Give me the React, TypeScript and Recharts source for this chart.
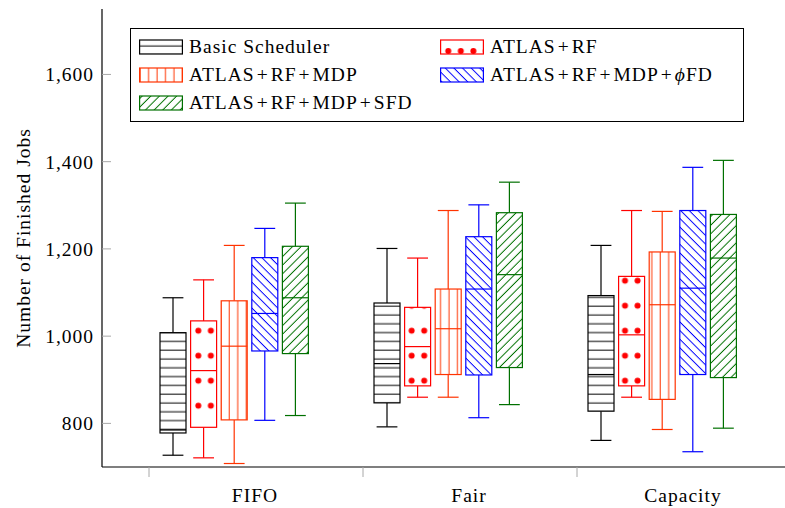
import { BarChart, Bar, XAxis, YAxis, Legend, Label } from 'recharts';

const categories = ['FIFO', 'Fair', 'Capacity'];

// [min, q1, median, q3, max] per scheduler, one row per category
const basicScheduler = [
  [727, 778, 785, 1008, 1088],
  [792, 847, 937, 1076, 1201],
  [761, 828, 912, 1093, 1208],
];
const atlasRf = [
  [721, 791, 921, 1035, 1129],
  [860, 886, 976, 1066, 1179],
  [860, 886, 1003, 1137, 1288],
];
const atlasRfMdp = [
  [708, 808, 977, 1081, 1208],
  [860, 912, 1017, 1108, 1288],
  [786, 855, 1072, 1193, 1286],
];
const atlasRfMdpPhiFd = [
  [807, 966, 1052, 1180, 1247],
  [813, 911, 1108, 1228, 1301],
  [735, 912, 1110, 1288, 1387],
];
const atlasRfMdpSfd = [
  [818, 960, 1088, 1206, 1305],
  [843, 928, 1141, 1283, 1353],
  [789, 905, 1179, 1279, 1403],
];

const yTicks = [800, 1000, 1200, 1400, 1600];

const FONT = '"Liberation Serif", "DejaVu Serif", serif';
const FONT_SIZE = 19.5;
const TICK_GREY = '#a8a8a8';

const series = [
  { key: 'basic', name: 'Basic Scheduler', color: '#000000', fill: 'pat-hlines', legendFill: 'pat-hlines', stats: basicScheduler },
  { key: 'rf', name: 'ATLAS+RF', color: '#ff0000', fill: 'pat-dots', legendFill: 'pat-dots-legend', stats: atlasRf },
  { key: 'mdp', name: 'ATLAS+RF+MDP', color: '#ff3300', fill: 'pat-vlines', legendFill: 'pat-vlines', stats: atlasRfMdp },
  { key: 'phifd', name: 'ATLAS+RF+MDP+ϕFD', color: '#0000ff', fill: 'pat-nwlines', legendFill: 'pat-nwlines', stats: atlasRfMdpPhiFd },
  { key: 'sfd', name: 'ATLAS+RF+MDP+SFD', color: '#007000', fill: 'pat-nelines', legendFill: 'pat-nelines', stats: atlasRfMdpSfd },
];

// legend order: two columns, filled row by row
const legendOrder = ['basic', 'rf', 'mdp', 'phifd', 'sfd'];

const data = categories.map((name, i) => {
  const row: any = { name };
  series.forEach((s) => {
    const st = s.stats[i];
    row[s.key] = [st[0], st[4]];
    row[s.key + 'Stats'] = st;
  });
  return row;
});

// box + whiskers, positioned from the ranged bar the library lays out (min..max)
const makeBox = (statsKey: string, color: string, fill: string) => (props: any) => {
  const { x, y, width, height, payload } = props;
  const [min, q1, med, q3, max] = payload[statsKey];
  const top = Math.min(y, y + height);
  const span = Math.abs(height);
  const toY = (v: number) => top + ((max - v) / (max - min)) * span;
  const cx = x + width / 2;
  const cap = width * 0.4;
  const sw = 1.2;
  return (
    <g>
      <line x1={cx} x2={cx} y1={toY(max)} y2={toY(q3)} stroke={color} strokeWidth={sw} />
      <line x1={cx} x2={cx} y1={toY(q1)} y2={toY(min)} stroke={color} strokeWidth={sw} />
      <line x1={cx - cap} x2={cx + cap} y1={toY(max)} y2={toY(max)} stroke={color} strokeWidth={sw} />
      <line x1={cx - cap} x2={cx + cap} y1={toY(min)} y2={toY(min)} stroke={color} strokeWidth={sw} />
      <rect x={x} y={toY(q3)} width={width} height={toY(q1) - toY(q3)} fill="#ffffff" />
      <rect
        x={x}
        y={toY(q3)}
        width={width}
        height={toY(q1) - toY(q3)}
        fill={`url(#${fill})`}
        stroke={color}
        strokeWidth={sw}
      />
      <line x1={x} x2={x + width} y1={toY(med)} y2={toY(med)} stroke={color} strokeWidth={sw} />
    </g>
  );
};

const PatternDefs = () => (
  <svg width={0} height={0} style={{ position: 'absolute' }}>
    <defs>
      <pattern id="pat-hlines" patternUnits="userSpaceOnUse" width={10} height={8.8}>
        <line x1={0} x2={10} y1={7} y2={7} stroke="#000000" strokeWidth={1} />
      </pattern>
      <pattern id="pat-dots" patternUnits="userSpaceOnUse" x={3.8} y={-6.8} width={12.55} height={25}>
        <circle cx={6.275} cy={12.5} r={3} fill="#ff0000" />
      </pattern>
      <pattern id="pat-dots-legend" patternUnits="userSpaceOnUse" x={2} y={0} width={12.55} height={25}>
        <circle cx={6.275} cy={12} r={3} fill="#ff0000" />
      </pattern>
      <pattern id="pat-vlines" patternUnits="userSpaceOnUse" width={8.45} height={10}>
        <line x1={1.15} x2={1.15} y1={0} y2={10} stroke="#ff3300" strokeWidth={1} />
      </pattern>
      <pattern id="pat-nwlines" patternUnits="userSpaceOnUse" width={6.1} height={6.1} patternTransform="rotate(-45)">
        <line x1={3} x2={3} y1={0} y2={6.1} stroke="#0000ff" strokeWidth={1} />
      </pattern>
      <pattern id="pat-nelines" patternUnits="userSpaceOnUse" width={6.1} height={6.1} patternTransform="rotate(45)">
        <line x1={3} x2={3} y1={0} y2={6.1} stroke="#007000" strokeWidth={1} />
      </pattern>
    </defs>
  </svg>
);

// '+' signs get a little room, the way math-mode operators are spaced
const LegendText = ({ text }: { text: string }) => {
  const parts = text.split('+');
  return (
    <span>
      {parts.map((p, i) => (
        <span key={i}>
          {i > 0 && <span style={{ margin: '0 2px' }}>+</span>}
          {p.includes('ϕ') ? (
            <>
              <i>ϕ</i>
              {p.replace('ϕ', '')}
            </>
          ) : (
            p
          )}
        </span>
      ))}
    </span>
  );
};

const renderLegend = () => (
  <div
    style={{
      boxSizing: 'border-box',
      width: 614,
      height: 94,
      border: '1px solid #000',
      background: '#fff',
      padding: '4px 0 0 8px',
      display: 'grid',
      gridTemplateColumns: '301px auto',
      gridAutoRows: '28px',
      fontFamily: FONT,
      fontSize: FONT_SIZE,
      letterSpacing: 1,
      color: '#000',
    }}
  >
    {legendOrder.map((k) => {
      const s = series.find((e) => e.key === k)!;
      return (
        <div key={k} style={{ display: 'flex', alignItems: 'center', whiteSpace: 'nowrap', lineHeight: '28px' }}>
          <svg width={44} height={16} style={{ display: 'block', marginRight: 6 }}>
            <rect x={0.6} y={1} width={42.8} height={14} fill="#fff" />
            <rect x={0.6} y={1} width={42.8} height={14} fill={`url(#${s.legendFill})`} stroke={s.color} strokeWidth={1.2} />
          </svg>
          <LegendText text={s.name} />
        </div>
      );
    })}
  </div>
);

const textStyle = { fontFamily: FONT, fontSize: FONT_SIZE, letterSpacing: 1, fill: '#000' };

const LeftTick = ({ x, y, payload }: any) => (
  <g>
    <line x1={x} x2={x + 9} y1={y} y2={y} stroke={TICK_GREY} strokeWidth={1} />
    <text x={x - 8} y={y} dy="0.36em" textAnchor="end" style={textStyle}>
      {Number(payload.value).toLocaleString('en-US')}
    </text>
  </g>
);

const RightTick = ({ x, y }: any) => (
  <line x1={x - 9} x2={x} y1={y} y2={y} stroke={TICK_GREY} strokeWidth={1} />
);

const BottomTick = ({ x, y, payload }: any) => (
  <g>
    <line x1={x - 85} x2={x - 85} y1={y} y2={y + 10} stroke={TICK_GREY} strokeWidth={1} />
    <text x={x + 21} y={y + 28} dy="0.36em" textAnchor="middle" style={textStyle}>
      {payload.value}
    </text>
  </g>
);

const TopTick = ({ x, y }: any) => (
  <line x1={x - 85} x2={x - 85} y1={y - 9} y2={y} stroke={TICK_GREY} strokeWidth={1} />
);

const YTitle = (props: any) => {
  const vb = props.viewBox ?? { x: 0, y: 9, width: 102, height: 458 };
  const cx = vb.x + 23;
  const cy = vb.y + vb.height / 2;
  return (
    <text
      x={cx}
      y={cy}
      transform={`rotate(-90 ${cx} ${cy})`}
      textAnchor="middle"
      dominantBaseline="central"
      style={textStyle}
    >
      Number of Finished Jobs
    </text>
  );
};

export default function App() {
  return (
    <div style={{ position: 'absolute', left: 0, top: 0, width: 785, height: 508, overflow: 'hidden', background: '#fff' }}>
      <PatternDefs />
      <BarChart
        width={785}
        height={508}
        data={data}
        margin={{ top: 9, right: 0, bottom: 0, left: 0 }}
        barSize={26}
        barGap={4.6}
      >
        <XAxis
          xAxisId="bottom"
          dataKey="name"
          height={41}
          padding={{ left: 25, right: 16 }}
          axisLine={{ stroke: '#000', strokeWidth: 1.2 }}
          tickLine={false}
          tickSize={0}
          tickMargin={0}
          tick={<BottomTick />}
          interval={0}
        />
        <XAxis
          xAxisId="top"
          orientation="top"
          dataKey="name"
          height={0}
          padding={{ left: 25, right: 16 }}
          axisLine={{ stroke: '#000', strokeWidth: 1.2 }}
          tickLine={false}
          tickSize={0}
          tickMargin={0}
          tick={<TopTick />}
          interval={0}
        />
        <YAxis
          yAxisId="left"
          width={102}
          domain={[700, 1750]}
          ticks={yTicks}
          type="number"
          axisLine={{ stroke: '#000', strokeWidth: 1.2 }}
          tickLine={false}
          tickSize={0}
          tickMargin={0}
          tick={<LeftTick />}
          interval={0}
        >
          <Label content={<YTitle />} />
        </YAxis>
        <YAxis
          yAxisId="right"
          orientation="right"
          width={0}
          domain={[700, 1750]}
          ticks={yTicks}
          type="number"
          axisLine={false}
          tickLine={false}
          tickSize={0}
          tickMargin={0}
          tick={<RightTick />}
          interval={0}
        />
        <Legend
          layout="vertical"
          align="center"
          verticalAlign="middle"
          content={renderLegend}
          wrapperStyle={{ left: 130, top: 28, width: 614, height: 94 }}
        />
        {series.map((s) => (
          <Bar
            key={s.key}
            xAxisId="bottom"
            yAxisId="left"
            dataKey={s.key}
            name={s.name}
            isAnimationActive={false}
            activeBar={false}
            shape={makeBox(s.key + 'Stats', s.color, s.fill)}
          />
        ))}
      </BarChart>
    </div>
  );
}
